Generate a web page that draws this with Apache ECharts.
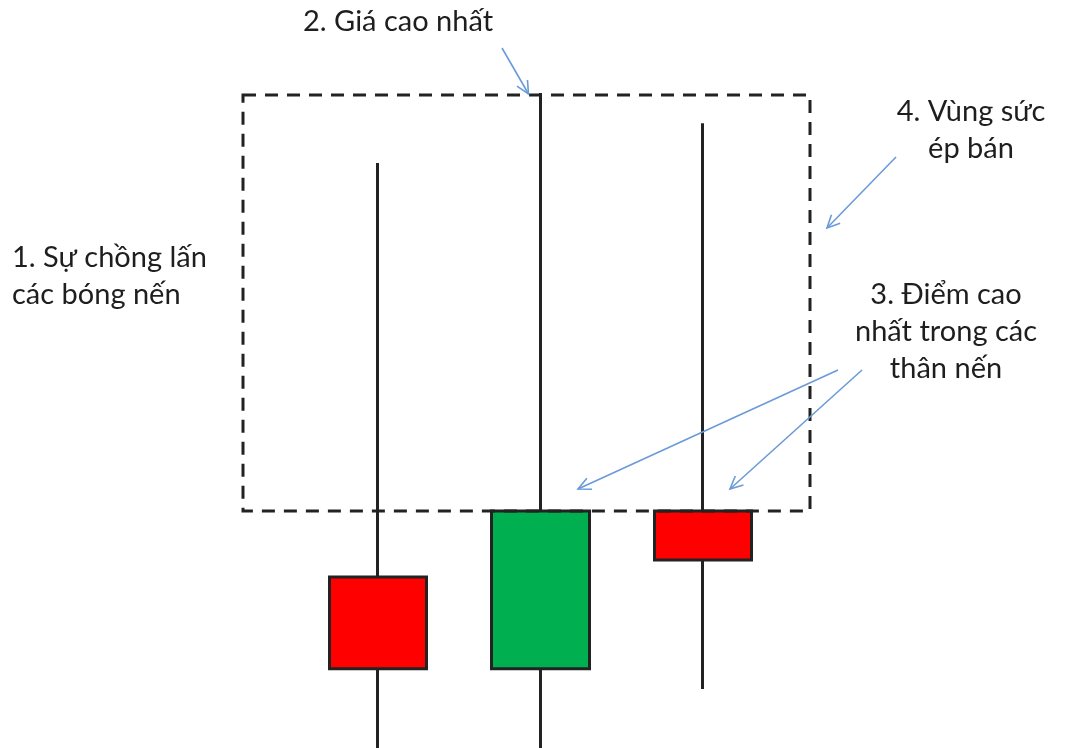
<!DOCTYPE html>
<html>
<head>
<meta charset="utf-8">
<script src="https://cdn.jsdelivr.net/npm/echarts@6/dist/echarts.min.js"></script>
<style>
  html, body { margin: 0; padding: 0; background: #fff; }
  #main { width: 1071px; height: 748px; }
</style>
</head>
<body>
<div id="main"></div>
<script>
// nến: [mở, đóng, thấp, cao]
var candleNames = ['A', 'B', 'C'];
var openVals  = [26.1, 12.1, 36.2];
var closeVals = [12.1, 36.2, 28.7];
var lowVals   = [0,    0,    9.0];
var highVals  = [89.3, 100,  95.4];

var labelHigh = '2. Giá cao nhất';
var labelOverlap = '1. Sự chồng lấn\ncác bóng nến';
var labelBodies = '3. Điểm cao\nnhất trong các\nthân nến';
var labelZone = '4. Vùng sức\nép bán';

var FONT = 'Lato';
var TXT = '#1e1e1e';
var ARROW = '#6a9bd8';

var candleData = [];
for (var i = 0; i < candleNames.length; i++) {
  candleData.push([openVals[i], closeVals[i], lowVals[i], highVals[i]]);
}

var chart = echarts.init(document.getElementById('main'));

chart.setOption({
  animation: false,
  grid: { left: 297, right: 287, top: 93, bottom: 0 },
  xAxis: {
    type: 'category',
    data: candleNames,
    show: false
  },
  yAxis: {
    type: 'value',
    min: 0,
    max: 100,
    show: false
  },
  series: [{
    type: 'candlestick',
    data: candleData,
    barWidth: 98,
    barMaxWidth: 200,
    itemStyle: {
      color: '#00b050',
      color0: '#ff0000',
      borderColor: '#222',
      borderColor0: '#222',
      borderWidth: 3
    }
  }]
});

// toạ độ vùng chữ nhật lấy từ dữ liệu
function px(idx, val) {
  return chart.convertToPixel({ gridIndex: 0 }, [idx, val]);
}
var topY = px(1, highVals[1])[1];
var botY = px(1, closeVals[1])[1];
var c2Top = px(1, highVals[1]);

function arrow(x1, y1, x2, y2) {
  var ang = Math.atan2(y2 - y1, x2 - x1);
  var L = 14, a = Math.PI / 7;
  var p1 = [x2 - L * Math.cos(ang - a), y2 - L * Math.sin(ang - a)];
  var p2 = [x2 - L * Math.cos(ang + a), y2 - L * Math.sin(ang + a)];
  return [
    { type: 'line', z: 20, shape: { x1: x1, y1: y1, x2: x2, y2: y2 }, style: { stroke: ARROW, lineWidth: 1.6 } },
    { type: 'polyline', z: 20, shape: { points: [p1, [x2, y2], p2] }, style: { stroke: ARROW, lineWidth: 1.6, fill: null } }
  ];
}

function label(text, x, y, align) {
  return {
    type: 'text', z: 30, x: x, y: y,
    style: {
      text: text, fill: TXT, font: '29px ' + FONT,
      align: align, verticalAlign: 'top', lineHeight: 37
    }
  };
}

var g = [{
  type: 'rect', z: 15,
  shape: { x: 243, y: topY + 2, width: 810 - 243, height: botY - topY - 2 },
  style: { fill: null, stroke: '#222', lineWidth: 3, lineDash: [13, 9] }
}];
g = g.concat(arrow(502, 48, c2Top[0] - 12, c2Top[1] + 1));
g = g.concat(arrow(896, 157, 827, 228));
g = g.concat(arrow(838, 370, 578, 489));
g = g.concat(arrow(862, 370, 730, 489));
g.push(label(labelHigh, 303, 3, 'left'));
g.push(label(labelOverlap, 12, 239, 'left'));
g.push(label(labelZone, 971, 93, 'center'));
g.push(label(labelBodies, 946, 276, 'center'));

chart.setOption({ graphic: g });
</script>
</body>
</html>
